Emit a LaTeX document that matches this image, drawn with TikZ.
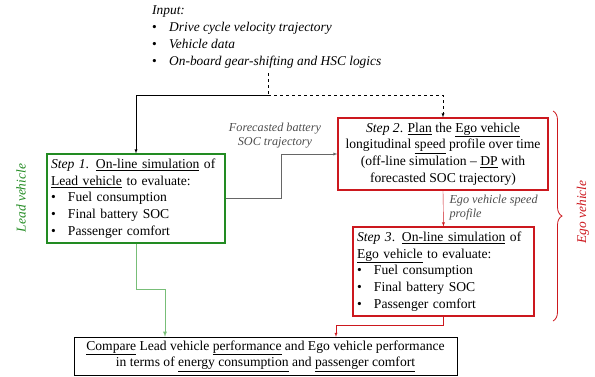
\documentclass[tikz,border=0pt]{standalone}
\usepackage{fontspec}
\setmainfont{Liberation Serif}
\usepackage{tikz}
\usetikzlibrary{calc}
\usetikzlibrary{decorations.pathreplacing}
\usetikzlibrary{shapes,arrows}

\definecolor{leadgreen}{RGB}{34,139,34}
\definecolor{lightgreen}{RGB}{120,190,120}
\definecolor{egored}{RGB}{204,24,30}
\newcommand{\bl}{\makebox[17pt][l]{\textbullet}}
\newcommand{\fullline}[1]{\makebox[\linewidth][s]{#1}}

\begin{document}
\begin{tikzpicture}[x=1pt,y=-1pt]
				\tikzstyle{every node}=[font=\fontsize{13.6}{16.6}\selectfont]
				\tikzstyle{stepbox}=[draw, line width=1.2pt, inner sep=4pt, align=left]
				\tikzstyle{lbl}=[font=\fontsize{12.2}{14}\selectfont\itshape, text=black!70]
				\useasboundingbox (0,0) rectangle (595,376);
				
				\node[anchor=north west, align=left, inner sep=0pt, font=\fontsize{13.4}{17}\selectfont] (input) at (152,6) {\textit{Input:}\\
					\bl\textit{Drive cycle velocity trajectory}\\
					\bl\textit{Vehicle data}\\
					\bl\textit{On-board gear-shifting and HSC logics}};
				
				\node[stepbox, draw=leadgreen, text width=170pt, minimum height=89pt] (step1) at (136,198.5) {\fullline{\textit{Step 1}. \underline{On-line simulation} of}\\
					\underline{Lead vehicle} to evaluate:\\
					\bl Fuel consumption\\
					\bl Final battery SOC\\
					\bl Passenger comfort};
				
				\node[stepbox, draw=egored, align=center, minimum width=210pt, minimum height=72pt] (step2) at (443,154) {\textit{Step 2}. \underline{Plan} the \underline{Ego vehicle}\\
					longitudinal \underline{speed} profile over time\\
					(off-line simulation -- \underline{DP} with\\
					forecasted SOC trajectory)};
				
				\node[stepbox, draw=egored, text width=173pt, minimum height=89pt] (step3) at (443.5,271.5) {\fullline{\textit{Step 3}. \underline{On-line simulation} of}\\
					\underline{Ego vehicle} to evaluate:\\
					\bl Fuel consumption\\
					\bl Final battery SOC\\
					\bl Passenger comfort};
				
				\node[draw, align=center, minimum width=383pt, minimum height=38pt, inner sep=2pt] (compare) at (265.5,356) {\underline{Compare} Lead vehicle \underline{performance} and Ego vehicle performance\\
					in terms of \underline{energy consumption} and \underline{passenger comfort}};
				
				\node[rotate=90, text=leadgreen, font=\fontsize{13.4}{15}\selectfont\itshape] (leadlbl) at (21,198) {Lead vehicle};
				\node[rotate=90, text=egored, font=\fontsize{13.4}{15}\selectfont\itshape] (egolbl) at (583,212) {Ego vehicle};
				
				\node[lbl, align=center] (soclbl) at (275,135.5) {Forecasted battery\\ SOC trajectory};
				\node[lbl, align=left, anchor=west] (speedlbl) at (446,208) {Ego vehicle speed\\ profile};
				
				% input to step 1 and step 2
				\coordinate (split) at (268,95);
				\draw [dashed] (split |- input.south) ++(0,4) -- (split);
				\draw [-latex] (split) -| (step1.north);
				\draw [-latex, dashed] (split) -| (step2.north);
				
				% step 1 to step 2
				\coordinate (mid) at ($(step1.east)!0.5!(step2.west)$);
				\draw [-latex, color=black!60] (step1.east) -| (mid) |- (step2.west);
				
				% step 2 to step 3
				\draw [-latex, color=egored] (step2.south) -- (step3.north);
				
				% to compare box
				\coordinate (gbend) at (165,289);
				\draw [-latex, color=lightgreen, thick] (step1.south) |- (gbend) -- (gbend |- compare.north);
				\coordinate (rbend) at (336,325);
				\draw [-latex, color=egored] (step3.south) |- (rbend) -- (rbend |- compare.north);
				
				\draw [decorate, decoration={brace, amplitude=9pt}, color=egored, thick] (553,111) -- (553,321);
				
				\end{tikzpicture}
\end{document}
